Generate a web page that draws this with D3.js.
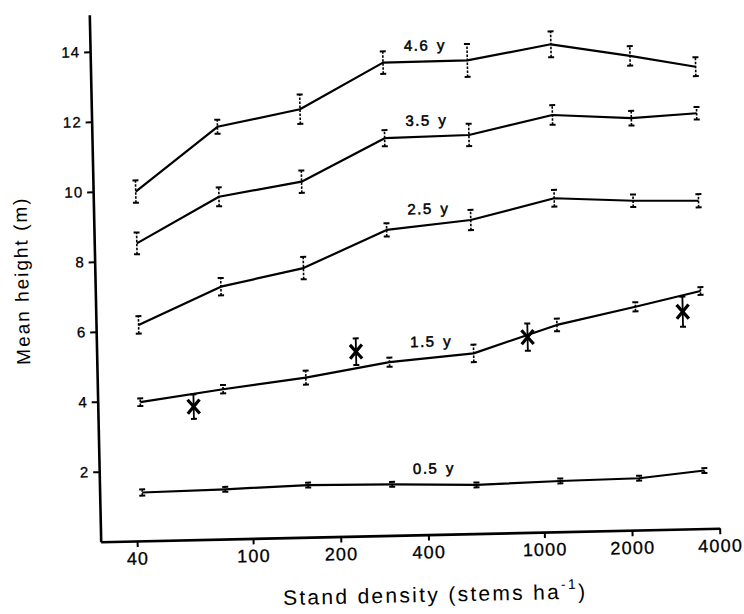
<!DOCTYPE html>
<html>
<head>
<meta charset="utf-8">
<script src="https://cdn.jsdelivr.net/npm/d3@7/dist/d3.min.js"></script>
<style>
  html, body { margin: 0; padding: 0; background: #fff; }
  svg { display: block; }
  text { font-family: "Liberation Sans", Arial, Helvetica, sans-serif; fill: #000; }
</style>
</head>
<body>
<div id="chart"></div>
<script>
// ---- data ----
const density = [42, 81, 156, 303, 590, 1145, 2135, 3580];

const ageLabels = ["0.5 y", "1.5 y", "2.5 y", "3.5 y", "4.6 y"];
const height05 = [1.38, 1.42, 1.49, 1.46, 1.39, 1.45, 1.48, 1.66];
const err05    = [0.09, 0.07, 0.07, 0.07, 0.07, 0.07, 0.07, 0.07];
const height15 = [3.96, 4.28, 4.56, 4.95, 5.15, 5.91, 6.38, 6.79];
const err15    = [0.11, 0.12, 0.20, 0.13, 0.25, 0.18, 0.13, 0.11];
const height25 = [6.17, 7.21, 7.69, 8.73, 8.96, 9.53, 9.41, 9.37];
const err25    = [0.25, 0.25, 0.32, 0.19, 0.29, 0.24, 0.18, 0.19];
const height35 = [8.50, 9.78, 10.16, 11.35, 11.39, 11.91, 11.77, 11.87];
const err35    = [0.31, 0.27, 0.32, 0.23, 0.32, 0.28, 0.21, 0.18];
const height46 = [9.98, 11.78, 12.23, 13.51, 13.52, 13.93, 13.55, 13.20];
const err46    = [0.32, 0.20, 0.42, 0.32, 0.47, 0.37, 0.28, 0.27];

// separate observations marked with crosses
const crossDensity = [64, 233, 906, 3100];
const crossHeight  = [3.80, 5.27, 5.58, 6.21];
const crossErr     = [0.35, 0.38, 0.39, 0.43];

const xTicks = [40, 100, 200, 400, 1000, 2000, 4000];
const yTicks = [2, 4, 6, 8, 10, 12, 14];

// ---- layout ----
const W = 744, H = 614;
const x0 = 100.7, y0 = 541.7;
const svg = d3.select("#chart").append("svg").attr("width", W).attr("height", H);
// the scanned figure is tilted slightly
const g = svg.append("g").attr("transform", `rotate(-1.24, ${x0}, ${y0})`);

const x = d3.scaleLog().domain([30, 4000]).range([x0, 719.8]);
const y = d3.scaleLinear().domain([0, 15.06]).range([y0, 14.6]);

// axes
const xAxis = d3.axisBottom(x).tickValues(xTicks).tickFormat(d3.format("d"))
  .tickSize(6).tickSizeOuter(0).tickPadding(5);
const gx = g.append("g").attr("transform", `translate(0,${y0})`).call(xAxis);
gx.select(".domain").attr("stroke", "#000").attr("stroke-width", 2.6);
gx.selectAll(".tick line").attr("stroke", "#000").attr("stroke-width", 2);
gx.selectAll(".tick text").attr("font-size", 18).attr("letter-spacing", 1.2)
  .attr("stroke", "#000").attr("stroke-width", 0.3)
  .attr("font-family", '"Liberation Sans", Arial, sans-serif');

const yAxis = d3.axisLeft(y).tickValues(yTicks).tickSize(6).tickSizeOuter(0).tickPadding(4);
const gy = g.append("g").attr("transform", `translate(${x0},0)`).call(yAxis);
gy.select(".domain").attr("stroke", "#000").attr("stroke-width", 2.6);
gy.selectAll(".tick line").attr("stroke", "#000").attr("stroke-width", 2);
gy.selectAll(".tick text").attr("font-size", 15).attr("letter-spacing", 1)
  .attr("stroke", "#000").attr("stroke-width", 0.3)
  .attr("font-family", '"Liberation Sans", Arial, sans-serif');

// axis titles
const xt = g.append("text").attr("x", 434).attr("y", 609)
  .attr("text-anchor", "middle").attr("font-size", 21).attr("letter-spacing", 2.3);
xt.append("tspan").text("Stand density (stems ha");
xt.append("tspan").attr("dy", -10).attr("font-size", 14).text("-1");
xt.append("tspan").attr("dy", 10).text(")");

g.append("text").attr("transform", "translate(34,279) rotate(-90)")
  .attr("text-anchor", "middle").attr("font-size", 19).attr("letter-spacing", 2)
  .text("Mean height (m)");

// series
const series = [
  {label: ageLabels[0], h: height05, e: err05},
  {label: ageLabels[1], h: height15, e: err15},
  {label: ageLabels[2], h: height25, e: err25},
  {label: ageLabels[3], h: height35, e: err35},
  {label: ageLabels[4], h: height46, e: err46},
];

const line = d3.line().x(d => x(d.d)).y(d => y(d.v));

series.forEach(s => {
  const pts = density.map((d, i) => ({d, v: s.h[i], e: s.e[i]}));
  g.append("path").datum(pts).attr("d", line)
    .attr("fill", "none").attr("stroke", "#000").attr("stroke-width", 2.2)
    .attr("stroke-linejoin", "round");
  const eb = g.append("g").selectAll("g").data(pts).join("g");
  eb.append("line")
    .attr("x1", d => x(d.d)).attr("x2", d => x(d.d))
    .attr("y1", d => y(d.v - d.e)).attr("y2", d => y(d.v + d.e))
    .attr("stroke", "#000").attr("stroke-width", 1.6).attr("stroke-dasharray", "2.5,1.5");
  [-1, 1].forEach(sg => {
    eb.append("line")
      .attr("x1", d => x(d.d) - 3).attr("x2", d => x(d.d) + 3)
      .attr("y1", d => y(d.v + sg * d.e)).attr("y2", d => y(d.v + sg * d.e))
      .attr("stroke", "#000").attr("stroke-width", 2);
  });
  // label above the segment between the 4th and 5th points
  const lx = (x(density[3]) + x(density[4])) / 2;
  const ly = y((s.h[3] + s.h[4]) / 2) - 11;
  g.append("text").attr("x", lx).attr("y", ly).attr("text-anchor", "middle")
    .attr("font-size", 15).attr("letter-spacing", 1.5).attr("word-spacing", 2)
    .attr("stroke", "#000").attr("stroke-width", 0.5)
    .text(s.label);
});

// crosses with error bars
const crosses = crossDensity.map((d, i) => ({d, v: crossHeight[i], e: crossErr[i]}));
const cg = g.append("g").selectAll("g").data(crosses).join("g");
cg.append("line")
  .attr("x1", d => x(d.d)).attr("x2", d => x(d.d))
  .attr("y1", d => y(d.v - d.e)).attr("y2", d => y(d.v + d.e))
  .attr("stroke", "#000").attr("stroke-width", 1.8);
[-1, 1].forEach(sg => {
  cg.append("line")
    .attr("x1", d => x(d.d) - 3).attr("x2", d => x(d.d) + 3)
    .attr("y1", d => y(d.v + sg * d.e)).attr("y2", d => y(d.v + sg * d.e))
    .attr("stroke", "#000").attr("stroke-width", 2);
});
cg.append("path")
  .attr("d", d => { const cx = x(d.d), cy = y(d.v);
    return `M${cx-6},${cy-7}L${cx+6},${cy+7}M${cx+6},${cy-7}L${cx-6},${cy+7}`; })
  .attr("stroke", "#000").attr("stroke-width", 3.2).attr("fill", "none");
</script>
</body>
</html>
